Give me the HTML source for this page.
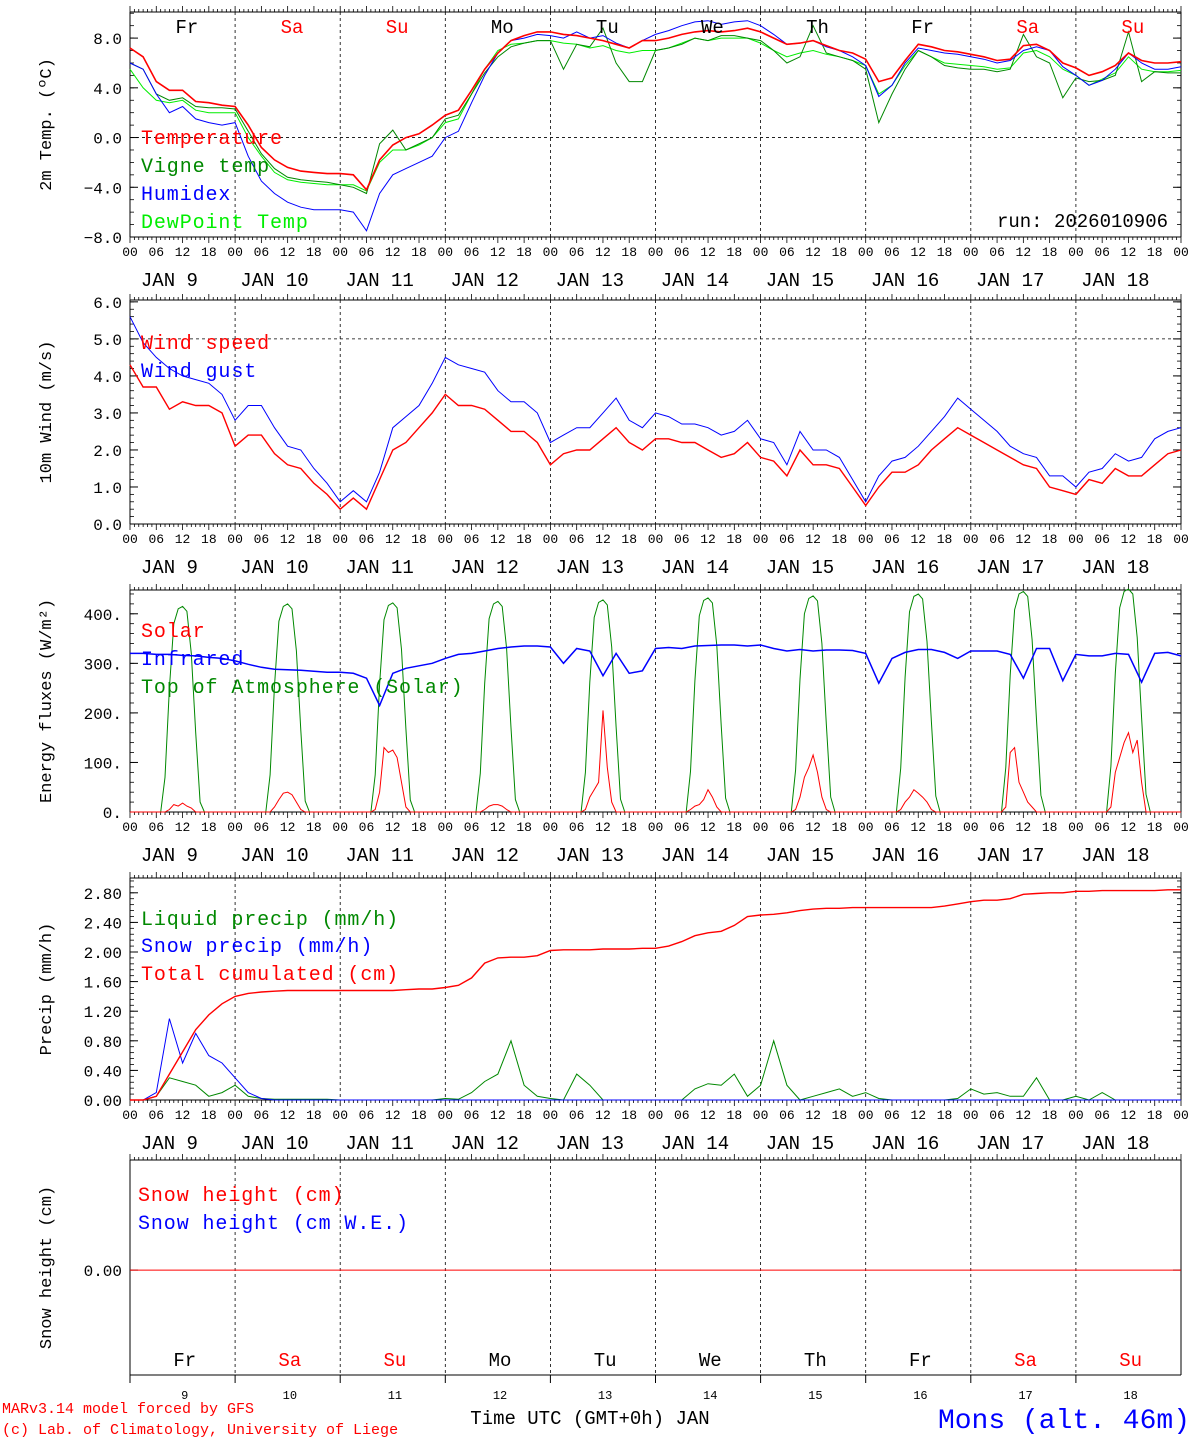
<!DOCTYPE html>
<html><head><meta charset="utf-8"><style>
html,body{margin:0;padding:0;background:#fff;}
svg{display:block;font-family:"Liberation Mono","DejaVu Sans Mono",monospace;}
</style></head><body>
<svg id="c" width="1194" height="1440" viewBox="0 0 1194 1440" xmlns="http://www.w3.org/2000/svg"></svg>
<script>
// ---- data (3-hourly from JAN 9 00 UTC, 81 points) ----
const dayNames=["Fr","Sa","Su","Mo","Tu","We","Th","Fr","Sa","Su"];
const dayNums=["9","10","11","12","13","14","15","16","17","18"];
const hourTicks=["00","06","12","18"];
const temperature=[7.2,6.5,4.5,3.8,3.8,2.9,2.8,2.6, 2.5,1.0,-0.8,-1.8,-2.4,-2.7,-2.8,-2.9, -2.9,-3.0,-4.2,-1.8,-0.6,0.0,0.3,1.0, 1.8,2.2,3.8,5.5,6.8,7.8,8.2,8.5, 8.5,8.3,8.2,8.0,7.8,7.5,7.2,7.8, 7.8,8.0,8.3,8.5,8.6,8.5,8.6,8.8, 8.5,8.0,7.5,7.6,7.8,7.4,7.0,6.8, 6.3,4.5,4.8,6.2,7.5,7.3,7.0,6.9, 6.7,6.5,6.2,6.3,7.4,7.5,7.0,6.0, 5.6,5.0,5.3,5.8,6.8,6.2,6.0,6.0, 6.1];
const vigneTemp=[6.0,5.5,3.5,3.0,3.2,2.5,2.4,2.4, 2.3,0.5,-1.3,-2.5,-3.2,-3.4,-3.5,-3.6, -3.8,-4.0,-4.5,-0.5,0.6,-1.0,-0.5,0.0, 1.5,1.8,3.5,5.2,6.5,7.3,7.6,7.8, 7.8,5.5,7.5,7.3,8.8,6.0,4.5,4.5, 7.0,7.2,7.5,8.0,7.8,8.2,8.2,8.0, 7.8,7.0,6.0,6.5,9.0,6.8,6.5,6.2, 5.5,1.2,3.5,5.5,7.0,6.5,5.8,5.6, 5.5,5.5,5.3,5.5,8.3,6.5,6.0,3.2, 4.8,4.5,4.6,5.0,8.5,4.5,5.3,5.2, 5.2];
const humidex=[6.0,5.5,3.5,2.0,2.5,1.5,1.2,1.0, 1.2,-1.5,-3.5,-4.5,-5.2,-5.6,-5.8,-5.8, -5.8,-6.0,-7.5,-4.5,-3.0,-2.5,-2.0,-1.5, 0.0,0.5,2.8,5.0,6.8,7.8,8.0,8.3, 8.2,8.0,8.5,8.0,8.2,7.6,7.2,7.8, 8.3,8.6,9.0,9.3,9.4,9.1,9.3,9.4, 9.0,8.3,7.5,7.6,7.8,7.3,7.0,6.5, 5.8,3.3,4.2,6.0,7.2,7.0,6.8,6.7, 6.5,6.3,6.0,6.2,7.0,7.3,7.0,5.7, 5.0,4.2,4.6,5.5,6.8,6.0,5.5,5.5, 5.7];
const dewPoint=[5.5,4.0,3.0,2.8,3.0,2.2,2.0,2.0, 2.0,0.0,-1.5,-2.8,-3.4,-3.6,-3.7,-3.8, -3.8,-3.8,-4.3,-2.0,-1.0,-1.0,-0.6,0.0, 1.2,1.5,3.5,5.5,7.0,7.5,7.6,7.8, 7.8,7.6,7.5,7.2,7.4,7.0,6.8,7.0, 7.0,7.2,7.6,8.0,7.8,8.0,8.0,8.0, 7.6,7.0,6.5,6.8,7.0,6.7,6.5,6.2, 5.8,3.5,4.2,5.8,7.0,6.5,6.0,5.9, 5.8,5.7,5.5,5.6,6.8,7.0,6.5,5.5, 5.0,4.2,4.7,5.2,6.5,5.5,5.3,5.3, 5.4];
const windSpeed=[4.3,3.7,3.7,3.1,3.3,3.2,3.2,3.0, 2.1,2.4,2.4,1.9,1.6,1.5,1.1,0.8, 0.4,0.7,0.4,1.2,2.0,2.2,2.6,3.0, 3.5,3.2,3.2,3.1,2.8,2.5,2.5,2.2, 1.6,1.9,2.0,2.0,2.3,2.6,2.2,2.0, 2.3,2.3,2.2,2.2,2.0,1.8,1.9,2.2, 1.8,1.7,1.3,2.0,1.6,1.6,1.5,1.0, 0.5,1.0,1.4,1.4,1.6,2.0,2.3,2.6, 2.4,2.2,2.0,1.8,1.6,1.5,1.0,0.9, 0.8,1.2,1.1,1.5,1.3,1.3,1.6,1.9, 2.0];
const windGust=[5.6,4.9,4.5,4.2,4.0,3.9,3.8,3.5, 2.8,3.2,3.2,2.6,2.1,2.0,1.5,1.1, 0.6,0.9,0.6,1.4,2.6,2.9,3.2,3.8, 4.5,4.3,4.2,4.1,3.6,3.3,3.3,3.0, 2.2,2.4,2.6,2.6,3.0,3.4,2.8,2.6, 3.0,2.9,2.7,2.7,2.6,2.4,2.5,2.8, 2.3,2.2,1.6,2.5,2.0,2.0,1.8,1.2, 0.6,1.3,1.7,1.8,2.1,2.5,2.9,3.4, 3.1,2.8,2.5,2.1,1.9,1.8,1.3,1.3, 1.0,1.4,1.5,1.9,1.7,1.8,2.3,2.5, 2.6];
const infrared=[320,320,318,318,316,315,312,310, 305,298,292,288,287,286,284,282, 282,280,270,215,280,290,295,300, 310,318,320,325,330,333,335,335, 333,300,330,325,275,320,280,285, 330,332,330,335,336,337,337,335, 337,330,325,328,325,327,327,326, 320,260,310,322,328,328,322,310, 325,325,325,318,270,330,330,265, 318,315,315,320,318,262,320,322, 315];
// hourly 07..17 UTC per day
const toa=[[0,70,250,380,410,415,405,320,160,20,0],[0,75,255,385,415,420,410,325,165,22,0],[0,75,258,388,417,422,412,328,168,24,0],[0,78,260,390,420,425,415,330,170,25,0],[0,80,262,393,423,428,418,333,172,26,0],[0,82,265,396,427,432,422,336,175,28,0],[0,85,268,400,431,436,426,340,178,30,0],[0,88,272,404,435,440,430,344,182,32,0],[0,90,276,408,440,445,435,348,186,34,0],[0,92,280,412,445,450,440,352,190,36,0]];
const solar=[[0,0,5,15,12,18,12,8,0,0,0],[0,0,10,25,38,40,35,20,5,0,0],[0,5,40,130,120,125,110,60,10,0,0],[0,0,5,12,15,15,12,5,0,0,0],[0,5,30,45,60,205,90,20,0,0,0],[0,5,12,15,25,45,30,10,0,0,0],[0,5,30,70,90,115,80,30,5,0,0],[0,5,20,30,45,38,30,20,5,0,0],[0,10,120,130,60,40,20,10,0,0,0],[0,10,80,110,140,160,120,145,60,0,0]];
const liquidPrecip=[0,0,0.05,0.3,0.25,0.2,0.05,0.1, 0.2,0.05,0.02,0.01,0.01,0.01,0.01,0.01, 0,0,0,0,0,0,0,0, 0.02,0.01,0.1,0.25,0.35,0.8,0.2,0.05, 0.02,0,0.35,0.2,0,0,0,0, 0,0,0,0.15,0.22,0.2,0.35,0.05, 0.2,0.8,0.2,0,0.05,0.1,0.15,0.05, 0.1,0.02,0,0,0,0,0,0.02, 0.15,0.08,0.1,0.05,0.05,0.3,0,0, 0.05,0,0.1,0,0,0,0,0, 0];
const snowPrecip=[0,0,0.1,1.1,0.5,0.9,0.6,0.5, 0.3,0.1,0.02,0,0,0,0,0, 0,0,0,0,0,0,0,0, 0,0,0,0,0,0,0,0, 0,0,0,0,0,0,0,0, 0,0,0,0,0,0,0,0, 0,0,0,0,0,0,0,0, 0,0,0,0,0,0,0,0, 0,0,0,0,0,0,0,0, 0,0,0,0,0,0,0,0, 0];
const totalCum=[0,0,0.05,0.35,0.65,0.95,1.15,1.3, 1.4,1.44,1.46,1.47,1.48,1.48,1.48,1.48, 1.48,1.48,1.48,1.48,1.48,1.49,1.5,1.5, 1.52,1.55,1.65,1.85,1.92,1.93,1.93,1.95, 2.02,2.03,2.03,2.03,2.04,2.04,2.04,2.05, 2.05,2.08,2.14,2.22,2.26,2.28,2.36,2.48, 2.5,2.51,2.53,2.56,2.58,2.59,2.59,2.6, 2.6,2.6,2.6,2.6,2.6,2.6,2.62,2.65, 2.68,2.7,2.7,2.72,2.78,2.79,2.8,2.8, 2.82,2.82,2.83,2.83,2.83,2.83,2.83,2.84, 2.84];
const snowHeight=new Array(81).fill(0);

const svg=document.getElementById('c');
const NS="http://www.w3.org/2000/svg";
function el(t,a,p){const e=document.createElementNS(NS,t);for(const k in a)e.setAttribute(k,a[k]);(p||svg).appendChild(e);return e;}
function txt(s,x,y,a,p){const e=el('text',Object.assign({x:x,y:y},a),p);e.textContent=s;return e;}
const X0=130,X1=1181;
function xh(h){return X0+h*(X1-X0)/240;}
const panels=[
 {name:'temp',top:12,bot:237,min:-8,max:10.1,ticks:[-8,-4,0,4,8],fmt:v=>(v<0?'\u2212':'')+Math.abs(v).toFixed(1),minor:1,dash:[0],label:'2m Temp. (ºC)'},
 {name:'wind',top:300,bot:524,min:0,max:6.05,ticks:[0,1,2,3,4,5,6],fmt:v=>v.toFixed(1),minor:0.2,dash:[5],label:'10m Wind (m/s)'},
 {name:'energy',top:590,bot:812,min:0,max:448,ticks:[0,100,200,300,400],fmt:v=>v+'.',minor:20,dash:[],label:'Energy fluxes (W/m²)'},
 {name:'precip',top:878,bot:1100,min:0,max:3.0,ticks:[0,0.4,0.8,1.2,1.6,2.0,2.4,2.8],fmt:v=>v.toFixed(2),minor:0.08,dash:[],label:'Precip (mm/h)'},
 {name:'snow',top:1160,bot:1375,min:-1,max:1.05,ticks:[0],fmt:v=>v.toFixed(2),minor:null,dash:[],label:'Snow height (cm)'}
];
panels.forEach((P,pi)=>{
  const g=el('g',{});
  
  
  P.y=v=>P.bot-(v-P.min)*(P.bot-P.top)/(P.max-P.min);
  el('line',{x1:X0,y1:P.top,x2:X0,y2:P.bot,stroke:'#000','stroke-width':1},g);
  el('line',{x1:X1,y1:P.top,x2:X1,y2:P.bot,stroke:'#000','stroke-width':1},g);
  el('line',{x1:X0,y1:P.top,x2:X1,y2:P.top,stroke:'#000','stroke-width':1},g);
  el('line',{x1:X0,y1:P.bot,x2:X1,y2:P.bot,stroke:'#000','stroke-width':1},g);
  for(let h=0;h<=240;h++){
    const L=h%6==0?6:3,x=xh(h);
    el('line',{x1:x,y1:P.top,x2:x,y2:P.top-L,stroke:'#000','stroke-width':0.8},g);
    if(pi<4)el('line',{x1:x,y1:P.bot,x2:x,y2:P.bot+L,stroke:'#000','stroke-width':0.8},g);
  }
  for(let d=1;d<10;d++){const x=xh(d*24);el('line',{x1:x,y1:P.top,x2:x,y2:P.bot,stroke:'#000','stroke-width':0.8,'stroke-dasharray':'3,3'},g);}
  P.dash.forEach(v=>el('line',{x1:X0,y1:P.y(v),x2:X1,y2:P.y(v),stroke:'#000','stroke-width':0.8,'stroke-dasharray':'3,3'},g));
  P.ticks.forEach(v=>{const y=P.y(v);el('line',{x1:X0,y1:y,x2:X0+8,y2:y,stroke:'#000'},g);el('line',{x1:X1,y1:y,x2:X1-8,y2:y,stroke:'#000'},g);
    txt(P.fmt(v),122,y+6,{'font-size':16,'text-anchor':'end',fill:'#000'},g);});
  if(P.minor){for(let v=P.min;v<=P.max+1e-9;v+=P.minor){const y=P.y(v);el('line',{x1:X0,y1:y,x2:X0+4,y2:y,stroke:'#000','stroke-width':0.8},g);el('line',{x1:X1,y1:y,x2:X1-4,y2:y,stroke:'#000','stroke-width':0.8},g);}}
  const cy=(P.top+P.bot)/2;
  txt(P.label,51,cy,{'font-size':17,'text-anchor':'middle',transform:`rotate(-90 51 ${cy})`,fill:'#000'},g);
  if(pi<4){
    for(let d=0;d<10;d++){for(let k=0;k<4;k++)txt(hourTicks[k],xh(d*24+k*6),P.bot+19,{'font-size':13,'text-anchor':'middle'},g);
      txt('JAN '+(dayNums[d].length<2?' ':'')+dayNums[d],xh(d*24+9),P.bot+49,{'font-size':19,'text-anchor':'middle'},g);}
    txt('00',X1,P.bot+19,{'font-size':13,'text-anchor':'middle'},g);
  }
});
function line(P,arr,color,name,w){const pts=arr.map((v,i)=>xh(i*3).toFixed(1)+','+P.y(v).toFixed(1)).join(' ');
  const e=el('polyline',{points:pts,fill:'none',stroke:color,'stroke-width':w||1});
  
  }
function dayLine(P,arr2,color,name){const pts=[];pts.push(xh(0)+','+P.y(0));
  arr2.forEach((day,d)=>day.forEach((v,k)=>pts.push(xh(d*24+7+k).toFixed(1)+','+P.y(v).toFixed(1))));
  pts.push(xh(240)+','+P.y(0));
  const e=el('polyline',{points:pts.join(' '),fill:'none',stroke:color,'stroke-width':1});
  
  }
const [P1,P2,P3,P4,P5]=panels;
line(P1,dewPoint,'#00ee00','dewpoint-line');
line(P1,vigneTemp,'#008800','vigne-temp-line');
line(P1,humidex,'#0000ff','humidex-line');
line(P1,temperature,'#ff0000','temperature-line',1.6);
line(P2,windGust,'#0000ff','wind-gust-line');
line(P2,windSpeed,'#ff0000','wind-speed-line',1.4);
dayLine(P3,toa,'#008800','toa-solar-line');
dayLine(P3,solar,'#ff0000','solar-line');
line(P3,infrared,'#0000ff','infrared-line',1.5);
line(P4,liquidPrecip,'#008800','liquid-precip-line');
line(P4,snowPrecip,'#0000ff','snow-precip-line');
line(P4,totalCum,'#ff0000','total-cumulated-line',1.4);
line(P5,snowHeight,'#ff0000','snow-height-line');
function leg(s,x,y,c,n){const e=txt(s,x,y,{'font-size':20,fill:c,'letter-spacing':'0.9'});}
leg('Temperature',141,144,'#ff0000','legend-temperature');
leg('Vigne temp',141,172,'#008800','legend-vigne');
leg('Humidex',141,200,'#0000ff','legend-humidex');
leg('DewPoint Temp',141,228,'#00ee00','legend-dewpoint');
leg('Wind speed',141,349,'#ff0000','legend-wind-speed');
leg('Wind gust',141,377,'#0000ff','legend-wind-gust');
leg('Solar',141,637,'#ff0000','legend-solar');
leg('Infrared',141,665,'#0000ff','legend-infrared');
leg('Top of Atmosphere (Solar)',141,693,'#008800','legend-toa');
leg('Liquid precip (mm/h)',141,925,'#008800','legend-liquid');
leg('Snow precip (mm/h)',141,952,'#0000ff','legend-snow');
leg('Total cumulated (cm)',141,980,'#ff0000','legend-total');
leg('Snow height (cm)',138,1201,'#ff0000','legend-snow-height');
leg('Snow height (cm W.E.)',138,1229,'#0000ff','legend-snow-we');
txt('run: 2026010906',1168,227,{'font-size':19,'text-anchor':'end'});
for(let d=0;d<10;d++){const c=(dayNames[d]=='Sa'||dayNames[d]=='Su')?'#ff0000':'#000';
  txt(dayNames[d],xh(d*24+13),33,{'font-size':19,'text-anchor':'middle',fill:c});
  txt(dayNames[d],xh(d*24+12.5),1366,{'font-size':19,'text-anchor':'middle',fill:c});
  txt(dayNums[d],xh(d*24+12.5),1399,{'font-size':12,'text-anchor':'middle'});
  el('line',{x1:xh(d*24),y1:1375,x2:xh(d*24),y2:1383,stroke:'#000'});}
txt('Time UTC (GMT+0h) JAN',590,1424,{'font-size':19,'text-anchor':'middle'});
txt('MARv3.14 model forced by GFS',2,1413,{'font-size':15,fill:'#ff0000'});
txt('(c) Lab. of Climatology, University of Liege',2,1434,{'font-size':15,fill:'#ff0000'});
txt('Mons (alt. 46m)',1190,1428,{'font-size':28,'text-anchor':'end',fill:'#0000ff'});
</script>
</body></html>
